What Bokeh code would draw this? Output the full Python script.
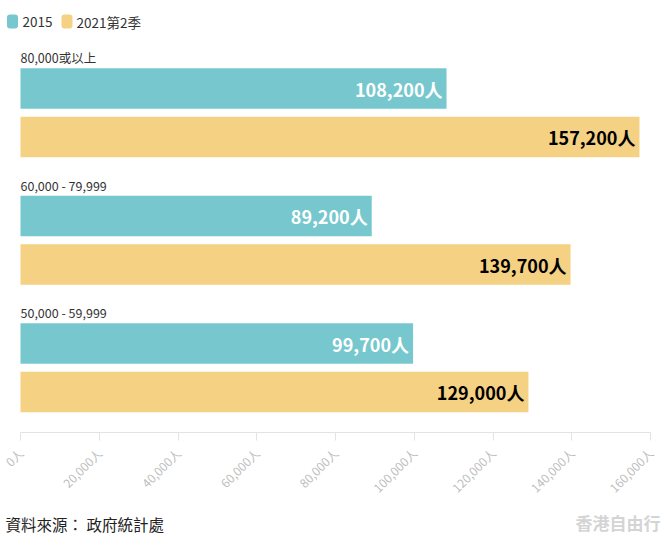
import math
from bokeh.plotting import figure
from bokeh.layouts import column
from bokeh.models import ColumnDataSource, Range1d, FixedTicker
from bokeh.core.properties import value
from bokeh.embed import file_html
from bokeh.resources import INLINE

# ---- data ----
categories = ["80,000或以上", "60,000 - 79,999", "50,000 - 59,999"]
series_names = ["2015", "2021第2季"]
values_2015 = [108200, 89200, 99700]
values_2021q2 = [157200, 139700, 129000]
tick_values = [0, 20000, 40000, 60000, 80000, 100000, 120000, 140000, 160000]
source_text = "資料來源： 政府統計處"
watermark_text = "香港自由行"

# ---- styling / layout ----
TEAL = "#76c8ce"
GOLD = "#f5d183"
COLORS = [TEAL, GOLD]
FONT = "Noto Sans CJK TC"
W = 668
H_MAIN = 508
H_FOOT = 38
AXIS_Y = 432                 # px of the axis line
X0_PX, X1_PX = 20, 650       # px of first and last tick
PX_PER = (X1_PX - X0_PX) / (tick_values[-1] - tick_values[0])
X_START = tick_values[0] - X0_PX / PX_PER
X_END = X_START + W / PX_PER


def px2x(px):
    return X_START + px / PX_PER


GROUP_STEP = 127.5
TEAL_CENTER = 88
GOLD_CENTER = 136.5
BAR_H = 40.5
CAT_LABEL_Y = 57

n = len(categories)
y_teal = [i * GROUP_STEP + TEAL_CENTER for i in range(n)]
y_gold = [i * GROUP_STEP + GOLD_CENTER for i in range(n)]
y_cat = [i * GROUP_STEP + CAT_LABEL_Y for i in range(n)]

src_teal = ColumnDataSource(dict(y=y_teal, v=values_2015,
                                 lbl=[f"{v:,}人" for v in values_2015]))
src_gold = ColumnDataSource(dict(y=y_gold, v=values_2021q2,
                                 lbl=[f"{v:,}人" for v in values_2021q2]))
src_cat = ColumnDataSource(dict(y=y_cat, x=[0] * n, t=categories))

p = figure(width=W, height=H_MAIN, output_backend="svg", toolbar_location=None,
           x_range=Range1d(X_START, X_END), y_range=Range1d(AXIS_Y, 0),
           min_border_left=0, min_border_right=0,
           min_border_top=0, min_border_bottom=H_MAIN - AXIS_Y)
p.outline_line_color = None
p.background_fill_color = "white"
p.border_fill_color = "white"
p.xgrid.visible = False
p.ygrid.visible = False
p.yaxis.visible = False

p.hbar(y="y", right="v", left=0, height=BAR_H, source=src_teal,
       color=TEAL, line_color=None)
p.hbar(y="y", right="v", left=0, height=BAR_H, source=src_gold,
       color=GOLD, line_color=None)

p.text(x="v", y="y", text="lbl", source=src_teal, x_offset=-4,
       text_align="right", text_baseline="middle", text_color="white",
       text_font=value(FONT), text_font_style="bold", text_font_size="18px")
p.text(x="v", y="y", text="lbl", source=src_gold, x_offset=-4,
       text_align="right", text_baseline="middle", text_color="black",
       text_font=value(FONT), text_font_style="bold", text_font_size="18px")
p.text(x="x", y="y", text="t", source=src_cat, text_align="left",
       text_baseline="middle", text_color="#333333", text_font=value(FONT),
       text_font_size="12.5px")

# legend (drawn by hand, left of the plot origin like the reference)
LEG_Y = 21
leg_sq_px = [12, 66.5]
leg_txt_px = [22, 76]
src_leg = ColumnDataSource(dict(x=[px2x(v) for v in leg_sq_px], y=[LEG_Y] * 2,
                                c=COLORS))
src_legt = ColumnDataSource(dict(x=[px2x(v) for v in leg_txt_px], y=[LEG_Y] * 2,
                                 t=series_names))
p.rect(x="x", y="y", width=11, height=14, width_units="screen",
       height_units="screen", source=src_leg, fill_color="c", line_color=None,
       border_radius=3)
p.text(x="x", y="y", text="t", source=src_legt, text_align="left",
       text_baseline="middle", text_color="#333333", text_font=value(FONT),
       text_font_size="13.5px")

ax = p.xaxis[0]
ax.ticker = FixedTicker(ticks=tick_values)
ax.bounds = (tick_values[0], tick_values[-1])
ax.major_label_overrides = {v: f"{v:,}人" for v in tick_values}
ax.major_label_orientation = math.pi / 4
ax.major_label_text_color = "#bdbdbd"
ax.major_label_text_font = FONT
ax.major_label_text_font_size = "12px"
ax.axis_line_color = "#e3e3e3"
ax.major_tick_line_color = "#e3e3e3"
ax.major_tick_out = 8
ax.major_tick_in = 0
ax.minor_tick_line_color = None
ax.major_label_standoff = 10

# footer: source note and watermark
foot = figure(width=W, height=H_FOOT, output_backend="svg",
              toolbar_location=None, x_range=Range1d(0, W),
              y_range=Range1d(H_FOOT, 0), min_border=0)
foot.outline_line_color = None
foot.xgrid.visible = False
foot.ygrid.visible = False
foot.xaxis.visible = False
foot.yaxis.visible = False
src_foot = ColumnDataSource(dict(x=[5], y=[15], t=[source_text]))
foot.text(x="x", y="y", text="t", source=src_foot, text_align="left",
          text_baseline="middle", text_color="#222222", text_font=value(FONT),
          text_font_size="15.5px")
src_wm = ColumnDataSource(dict(x=[660], y=[14], t=[watermark_text]))
foot.text(x="x", y="y", text="t", source=src_wm, text_align="right",
          text_baseline="middle", text_color="#d4d4d4", text_font=value(FONT),
          text_font_style="bold", text_font_size="17px")

layout = column(p, foot, spacing=0)
open("out.html", "w").write(file_html(layout, INLINE))
